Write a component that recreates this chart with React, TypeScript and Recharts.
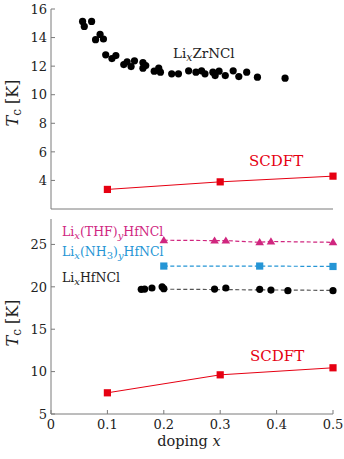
import React from "react";
import { ComposedChart, Scatter, Line, XAxis, YAxis } from "recharts";

// doping x ticks shared by both panels
const xTicks = [0, 0.1, 0.2, 0.3, 0.4, 0.5];
const topYTicks = [4, 6, 8, 10, 12, 14, 16];
const bottomYTicks = [5, 10, 15, 20, 25];

// Li_x ZrNCl experiment
const zrX = [
  0.056, 0.059, 0.072, 0.079, 0.087, 0.093, 0.097, 0.108, 0.115, 0.129, 0.135, 0.142, 0.148,
  0.163, 0.163, 0.168, 0.183, 0.191, 0.194, 0.214, 0.226, 0.244, 0.257, 0.267, 0.273, 0.287,
  0.291, 0.298, 0.309, 0.323, 0.333, 0.347, 0.366, 0.415,
];
const zrTc = [
  15.13, 14.78, 15.13, 13.85, 14.22, 13.9, 12.79, 12.53, 12.74, 12.11, 12.3, 11.97, 12.37,
  12.25, 11.86, 12.04, 11.65, 11.86, 11.58, 11.46, 11.46, 11.67, 11.58, 11.67, 11.46, 11.58,
  11.34, 11.65, 11.34, 11.67, 11.27, 11.58, 11.23, 11.16,
];

// SCDFT calculations
const scdftX = [0.1, 0.3, 0.5];
const scdftZrTc = [3.37, 3.9, 4.3];
const scdftHfTc = [7.5, 9.62, 10.45];

// Li_x HfNCl experiment
const hfX = [0.16, 0.166, 0.179, 0.197, 0.2, 0.29, 0.31, 0.37, 0.39, 0.42, 0.5];
const hfTc = [19.7, 19.74, 19.86, 20.01, 19.78, 19.74, 19.86, 19.7, 19.62, 19.55, 19.55];
const hfTrendX = [0.2, 0.5];
const hfTrendTc = [19.72, 19.58];

// Li_x(THF)_y HfNCl
const thfX = [0.2, 0.29, 0.31, 0.37, 0.39, 0.5];
const thfTc = [25.5, 25.45, 25.45, 25.25, 25.35, 25.25];

// Li_x(NH3)_y HfNCl
const nh3X = [0.2, 0.37, 0.5];
const nh3Tc = [22.45, 22.45, 22.4];

const pts = (xs: number[], ys: number[]) => xs.map((x, i) => ({ x, y: ys[i] }));

const FRAME = "#7a7a7a";
const RED = "#e60012";
const MAGENTA = "#d0267f";
const BLUE = "#2595d5";
const SERIF = "DejaVu Serif";

// tick labels drawn as plain svg text so the serif font is applied for sure
const XTick = (p: any) => (
  <text x={p.x} y={p.y} dy="0.71em" textAnchor="middle" fontFamily={SERIF} fontSize={13} fill="#222">
    {String(p.payload.value)}
  </text>
);
const YTick = (p: any) => (
  <text x={p.x} y={p.y} dy="0.36em" textAnchor="end" fontFamily={SERIF} fontSize={13} fill="#222">
    {String(p.payload.value)}
  </text>
);

const Dot = (p: any) => <circle cx={p.cx} cy={p.cy} r={3.6} fill="#000" />;
const Square = (color: string) => (p: any) =>
  <rect x={p.cx - 3.6} y={p.cy - 3.6} width={7.2} height={7.2} fill={color} />;
const Triangle = (p: any) => (
  <polygon
    points={`${p.cx},${p.cy - 4.2} ${p.cx + 4.3},${p.cy + 3} ${p.cx - 4.3},${p.cy + 3}`}
    fill={MAGENTA}
  />
);

function frameAxes(yDomain: number[], yTicks: number[], showX: boolean) {
  return [
    <XAxis
      key="xb"
      type="number"
      dataKey="x"
      domain={[0, 0.5]}
      ticks={xTicks}
      height={showX ? 45 : 3}
      tick={showX ? XTick : false}
      tickSize={-4}
      tickMargin={10}
      axisLine={{ stroke: FRAME }}
      tickLine={{ stroke: FRAME }}
    />,
    <XAxis
      key="xt"
      xAxisId="t"
      orientation="top"
      type="number"
      dataKey="x"
      domain={[0, 0.5]}
      ticks={xTicks}
      height={0}
      tick={false}
      tickSize={-4}
      axisLine={{ stroke: FRAME }}
      tickLine={{ stroke: FRAME }}
    />,
    <YAxis
      key="yl"
      type="number"
      dataKey="y"
      domain={yDomain}
      ticks={yTicks}
      width={51}
      tick={YTick}
      tickSize={-4}
      tickMargin={8}
      axisLine={{ stroke: FRAME }}
      tickLine={{ stroke: FRAME }}
    />,
    <YAxis
      key="yr"
      yAxisId="r"
      orientation="right"
      type="number"
      dataKey="y"
      domain={yDomain}
      ticks={yTicks}
      width={0}
      tick={false}
      tickSize={-4}
      axisLine={{ stroke: FRAME }}
      tickLine={{ stroke: FRAME }}
    />,
  ];
}

function TopPanel() {
  return (
    <ComposedChart width={344} height={212} margin={{ top: 9, right: 11, bottom: 0, left: 0 }}>
      {frameAxes([2, 16], topYTicks, false)}
      <Line
        data={pts(scdftX, scdftZrTc)}
        dataKey="y"
        type="linear"
        stroke={RED}
        strokeWidth={1}
        dot={false}
        isAnimationActive={false}
      />
      <Scatter data={pts(zrX, zrTc)} dataKey="y" shape={Dot} isAnimationActive={false} />
      <Scatter data={pts(scdftX, scdftZrTc)} dataKey="y" shape={Square(RED)} isAnimationActive={false} />
    </ComposedChart>
  );
}

function BottomPanel() {
  return (
    <ComposedChart width={344} height={247} margin={{ top: 7, right: 11, bottom: 0, left: 0 }}>
      {frameAxes([5, 28], bottomYTicks, true)}
      <Line data={pts(thfX, thfTc)} dataKey="y" stroke={MAGENTA} strokeWidth={1.2}
        strokeDasharray="4 2.5" dot={false} isAnimationActive={false} />
      <Line data={pts(nh3X, nh3Tc)} dataKey="y" stroke={BLUE} strokeWidth={1.2}
        strokeDasharray="4 2.5" dot={false} isAnimationActive={false} />
      <Line data={pts(hfTrendX, hfTrendTc)} dataKey="y" stroke="#555" strokeWidth={1.2}
        strokeDasharray="4 2.5" dot={false} isAnimationActive={false} />
      <Line data={pts(scdftX, scdftHfTc)} dataKey="y" type="linear" stroke={RED}
        strokeWidth={1} dot={false} isAnimationActive={false} />
      <Scatter data={pts(thfX, thfTc)} dataKey="y" shape={Triangle} isAnimationActive={false} />
      <Scatter data={pts(nh3X, nh3Tc)} dataKey="y" shape={Square(BLUE)} isAnimationActive={false} />
      <Scatter data={pts(hfX, hfTc)} dataKey="y" shape={Dot} isAnimationActive={false} />
      <Scatter data={pts(scdftX, scdftHfTc)} dataKey="y" shape={Square(RED)} isAnimationActive={false} />
    </ComposedChart>
  );
}

// segments: [text, kind] with kind "n" normal, "i" italic subscript, "s" roman subscript
type Seg = [string, "n" | "i" | "s"];
function Formula({ x, y, size, fill, segs }: { x: number; y: number; size: number; fill: string; segs: Seg[] }) {
  let low = false;
  return (
    <text x={x} y={y} fontFamily={SERIF} fontSize={size} fill={fill}>
      {segs.map(([t, k], i) => {
        const isSub = k !== "n";
        const dy = isSub && !low ? 3 : !isSub && low ? -3 : 0;
        low = isSub;
        return (
          <tspan key={i} dy={dy || undefined} fontSize={isSub ? size * 0.8 : undefined}
            fontStyle={k === "i" ? "italic" : undefined}>
            {t}
          </tspan>
        );
      })}
    </text>
  );
}

function YTitle({ x, y }: { x: number; y: number }) {
  return (
    <text x={x} y={y} transform={`rotate(-90 ${x} ${y})`} textAnchor="middle"
      fontFamily={SERIF} fontSize={16} fill="#222">
      <tspan fontStyle="italic">T</tspan>
      <tspan dy={3} fontSize={12}>c</tspan>
      <tspan dy={-3}> [K]</tspan>
    </text>
  );
}

function Labels() {
  return (
    <svg width={344} height={459} style={{ position: "absolute", left: 0, top: 0, pointerEvents: "none" }}>
      <YTitle x={18} y={103} />
      <YTitle x={18} y={323} />
      <text x={189} y={446} textAnchor="middle" fontFamily={SERIF} fontSize={14.5} fill="#222">
        doping <tspan fontStyle="italic">x</tspan>
      </text>
      <Formula x={173} y={58} size={13.5} fill="#222" segs={[["Li", "n"], ["x", "i"], ["ZrNCl", "n"]]} />
      <text x={249} y={166} fontFamily={SERIF} fontSize={15} fill={RED}>SCDFT</text>
      <text x={250} y={361} fontFamily={SERIF} fontSize={15} fill={RED}>SCDFT</text>
      <Formula x={62} y={235.5} size={12.5} fill={MAGENTA}
        segs={[["Li", "n"], ["x", "i"], ["(THF)", "n"], ["y", "i"], ["HfNCl", "n"]]} />
      <Formula x={62} y={256} size={12.5} fill={BLUE}
        segs={[["Li", "n"], ["x", "i"], ["(NH", "n"], ["3", "s"], [")", "n"], ["y", "i"], ["HfNCl", "n"]]} />
      <Formula x={62} y={281.5} size={12.5} fill="#222" segs={[["Li", "n"], ["x", "i"], ["HfNCl", "n"]]} />
    </svg>
  );
}

export default function App() {
  return (
    <div style={{ position: "absolute", left: 0, top: 0, width: 344, height: 459, background: "#fff" }}>
      <div style={{ position: "absolute", left: 0, top: 0 }}>
        <TopPanel />
      </div>
      <div style={{ position: "absolute", left: 0, top: 212 }}>
        <BottomPanel />
      </div>
      <Labels />
    </div>
  );
}
